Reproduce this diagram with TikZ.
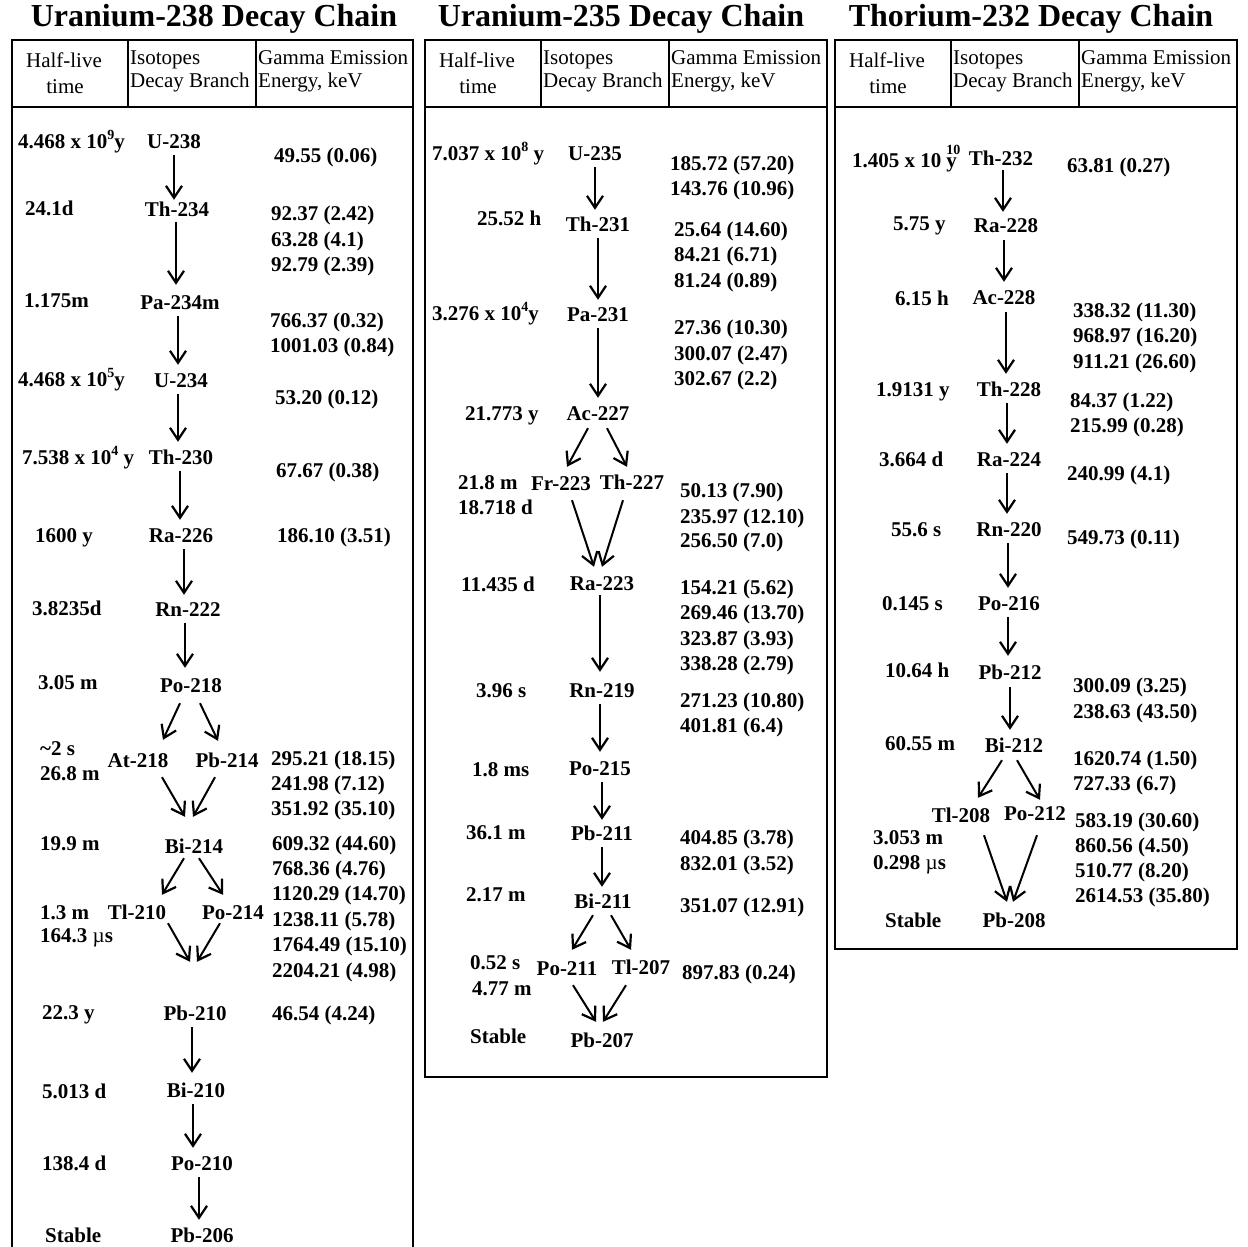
\documentclass[tikz,border=0pt]{standalone}
\usepackage{fontspec}
\setmainfont{Liberation Serif}
\usetikzlibrary{arrows.meta,calc}
\newcommand\sups[1]{\raisebox{0.42em}{\fontsize{14}{14}\selectfont #1}}
\newcommand\mymu{{\mdseries µ}}
\newcommand\vd[5]{\draw[arr] ($(#1.south)+(#3,#4)$) -- ($(#1.south |- #2.north)+(#3,-#5)$);}
\newcommand\dd[6]{\draw[arr] ($(#1.south)+(#3,#4)$) -- ($(#2.north)+(#5,#6)$);}
\newcommand\hdr[2]{%
  \draw[frame] (#1,40) -- (#1+116,40) -- (#1+116,107);
  \draw[frame] (#1+116,40) -- (#1+244,40) -- (#1+244,107);
  \draw[frame] (#1,107) -- (#1+401,107);
  \node[hd,anchor=base] (#2hl) at (#1+52,68) {Half-live};
  \node[hd,anchor=base] (#2tm) at (#1+53,93) {time};
  \node[hd,anchor=base west] (#2is) at (#1+118,65) {Isotopes};
  \node[hd,anchor=base west] (#2db) at (#1+118,88) {Decay Branch};
  \node[hd,anchor=base west] (#2ge) at (#1+246,65) {Gamma Emission};
  \node[hd,anchor=base west] (#2en) at (#1+246,88) {Energy, keV};
}
\tikzset{
  txt/.style={inner sep=0pt, text height=14pt, text depth=0pt, font=\fontsize{21}{21}\selectfont\bfseries},
  iso/.style={txt, anchor=center},
  hlf/.style={txt, anchor=west},
  gam/.style={txt, anchor=west},
  hd/.style={inner sep=0pt, font=\fontsize{21}{21}\selectfont},
  ttl/.style={inner sep=0pt, font=\fontsize{32}{32}\selectfont\bfseries},
  frame/.style={line width=1.5pt},
  arr/.style={line width=2pt, -{Straight Barb[length=12pt,width=16pt,line width=2.2pt]}}
}
\begin{document}
\begin{tikzpicture}[x=1pt,y=-1pt]
\useasboundingbox (0,0) rectangle (1248,1247);
% ---------------- frames ----------------
\draw[frame] (12,1252) -- (12,40) -- (413,40) -- (413,1252);
\draw[frame] (425,40) rectangle (827,1077);
\draw[frame] (835,40) rectangle (1237,949);
\hdr{12}{a}
\hdr{425}{b}
\hdr{835}{c}
% ---------------- titles ----------------
\node[ttl,anchor=base] (title1) at (214,27) {Uranium-238 Decay Chain};
\node[ttl,anchor=base] (title2) at (621,27) {Uranium-235 Decay Chain};
\node[ttl,anchor=base] (title3) at (1031,27) {Thorium-232 Decay Chain};

% ================= Table 1: U-238 =================
\node[hlf] (h1a) at (18,141) {4.468 x 10\sups{9}y};
\node[hlf] (h1b) at (25,208) {24.1d};
\node[hlf] (h1c) at (24,300) {1.175m};
\node[hlf] (h1d) at (18,379) {4.468 x 10\sups{5}y};
\node[hlf] (h1e) at (22,457) {7.538 x 10\sups{4} y};
\node[hlf] (h1f) at (35,535) {1600 y};
\node[hlf] (h1g) at (32,608) {3.8235d};
\node[hlf] (h1h) at (38,682) {3.05 m};
\node[hlf] (h1i) at (40,748) {\textasciitilde2 s};
\node[hlf] (h1j) at (40,773) {26.8 m};
\node[hlf] (h1k) at (40,843) {19.9 m};
\node[hlf] (h1l) at (40,912) {1.3 m};
\node[hlf] (h1m) at (40,935) {164.3 \mymu s};
\node[hlf] (h1n) at (42,1012) {22.3 y};
\node[hlf] (h1o) at (42,1091) {5.013 d};
\node[hlf] (h1p) at (42,1163) {138.4 d};
\node[hlf] (h1q) at (45,1235) {Stable};

\node[iso] (u238) at (174,141) {U-238};
\node[iso] (th234) at (177,209) {Th-234};
\node[iso] (pa234m) at (180,302) {Pa-234m};
\node[iso] (u234) at (181,380) {U-234};
\node[iso] (th230) at (181,457) {Th-230};
\node[iso] (ra226) at (181,535) {Ra-226};
\node[iso] (rn222) at (188,609) {Rn-222};
\node[iso] (po218) at (191,685) {Po-218};
\node[iso] (at218) at (138,760) {At-218};
\node[iso] (pb214) at (227,760) {Pb-214};
\node[iso] (bi214) at (194,846) {Bi-214};
\node[iso] (tl210) at (137,912) {Tl-210};
\node[iso] (po214) at (233,912) {Po-214};
\node[iso] (pb210) at (195,1013) {Pb-210};
\node[iso] (bi210) at (196,1090) {Bi-210};
\node[iso] (po210) at (202,1163) {Po-210};
\node[iso] (pb206) at (202,1235) {Pb-206};

\vd{u238}{th234}{0}{7}{2}
\vd{th234}{pa234m}{-1}{6}{10}
\vd{pa234m}{u234}{-2}{7}{8}
\vd{u234}{th230}{-3}{7}{8}
\vd{th230}{ra226}{-1}{7}{8}
\vd{ra226}{rn222}{3}{7}{7}
\vd{rn222}{po218}{-3}{7}{10}
\dd{po218}{at218}{-11}{11}{25}{-13}
\dd{po218}{pb214}{9}{11}{-9}{-12}
\dd{at218}{bi214}{24}{10}{-9}{-22}
\dd{pb214}{bi214}{-12}{10}{-1}{-22}
\dd{bi214}{tl210}{-10}{5}{25}{-10}
\dd{bi214}{po214}{5}{5}{-10}{-10}
\dd{tl210}{pb210}{31}{4}{-5}{-44}
\dd{po214}{pb210}{-13}{4}{2}{-44}
\vd{pb210}{bi210}{-3}{7}{10}
\vd{bi210}{po210}{-3}{7}{8}
\vd{po210}{pb206}{-3}{7}{8}

\node[gam] (g1a) at (274,155) {49.55 (0.06)};
\node[gam] (g1b) at (271,213) {92.37 (2.42)};
\node[gam] (g1c) at (271,239) {63.28 (4.1)};
\node[gam] (g1d) at (271,264) {92.79 (2.39)};
\node[gam] (g1e) at (270,320) {766.37 (0.32)};
\node[gam] (g1f) at (270,345) {1001.03 (0.84)};
\node[gam] (g1g) at (275,397) {53.20 (0.12)};
\node[gam] (g1h) at (276,470) {67.67 (0.38)};
\node[gam] (g1i) at (277,535) {186.10 (3.51)};
\node[gam] (g1j) at (271,758) {295.21 (18.15)};
\node[gam] (g1k) at (271,783) {241.98 (7.12)};
\node[gam] (g1l) at (271,808) {351.92 (35.10)};
\node[gam] (g1m) at (272,843) {609.32 (44.60)};
\node[gam] (g1n) at (272,868) {768.36 (4.76)};
\node[gam] (g1o) at (272,893) {1120.29 (14.70)};
\node[gam] (g1p) at (272,919) {1238.11 (5.78)};
\node[gam] (g1q) at (272,944) {1764.49 (15.10)};
\node[gam] (g1r) at (272,970) {2204.21 (4.98)};
\node[gam] (g1s) at (272,1013) {46.54 (4.24)};

% ================= Table 2: U-235 =================
\node[hlf] (h2a) at (432,153) {7.037 x 10\sups{8} y};
\node[hlf] (h2b) at (477,218) {25.52 h};
\node[hlf] (h2c) at (432,313) {3.276 x 10\sups{4}y};
\node[hlf] (h2d) at (465,413) {21.773 y};
\node[hlf] (h2e) at (458,482) {21.8 m};
\node[hlf] (h2f) at (458,507) {18.718 d};
\node[hlf] (h2g) at (461,584) {11.435 d};
\node[hlf] (h2h) at (476,690) {3.96 s};
\node[hlf] (h2i) at (472,769) {1.8 ms};
\node[hlf] (h2j) at (466,832) {36.1 m};
\node[hlf] (h2k) at (466,894) {2.17 m};
\node[hlf] (h2l) at (470,962) {0.52 s};
\node[hlf] (h2m) at (472,988) {4.77 m};
\node[hlf] (h2n) at (470,1036) {Stable};

\node[iso] (u235) at (595,153) {U-235};
\node[iso] (th231) at (598,224) {Th-231};
\node[iso] (pa231) at (598,314) {Pa-231};
\node[iso] (ac227) at (598,413) {Ac-227};
\node[iso] (fr223) at (561,483) {Fr-223};
\node[iso] (th227) at (632,482) {Th-227};
\node[iso] (ra223) at (602,583) {Ra-223};
\node[iso] (rn219) at (602,690) {Rn-219};
\node[iso] (po215) at (600,768) {Po-215};
\node[iso] (pb211) at (602,833) {Pb-211};
\node[iso] (bi211) at (603,901) {Bi-211};
\node[iso] (po211) at (567,968) {Po-211};
\node[iso] (tl207) at (641,967) {Tl-207};
\node[iso] (pb207) at (602,1040) {Pb-207};

\vd{u235}{th231}{0}{7}{7}
\vd{th231}{pa231}{0}{7}{7}
\vd{pa231}{ac227}{0}{7}{8}
\dd{ac227}{fr223}{-10}{8}{6}{-9}
\dd{ac227}{th227}{9}{8}{-5}{-8}
\dd{fr223}{ra223}{11}{10}{-8}{-9}
\dd{th227}{ra223}{-9}{11}{0}{-9}
\vd{ra223}{rn219}{-2}{5}{11}
\vd{rn219}{po215}{-2}{7}{9}
\vd{po215}{pb211}{2}{7}{6}
\vd{pb211}{bi211}{0}{7}{7}
\dd{bi211}{po211}{-10}{7}{5}{-11}
\dd{bi211}{tl207}{8}{7}{-10}{-10}
\dd{po211}{pb207}{6}{10}{-6}{-11}
\dd{tl207}{pb207}{-15}{11}{1}{-11}

\node[gam] (g2a) at (670,163) {185.72 (57.20)};
\node[gam] (g2b) at (670,188) {143.76 (10.96)};
\node[gam] (g2c) at (674,229) {25.64 (14.60)};
\node[gam] (g2d) at (674,254) {84.21 (6.71)};
\node[gam] (g2e) at (674,280) {81.24 (0.89)};
\node[gam] (g2f) at (674,327) {27.36 (10.30)};
\node[gam] (g2g) at (674,353) {300.07 (2.47)};
\node[gam] (g2h) at (674,378) {302.67 (2.2)};
\node[gam] (g2i) at (680,490) {50.13 (7.90)};
\node[gam] (g2j) at (680,516) {235.97 (12.10)};
\node[gam] (g2k) at (680,540) {256.50 (7.0)};
\node[gam] (g2l) at (680,587) {154.21 (5.62)};
\node[gam] (g2m) at (680,612) {269.46 (13.70)};
\node[gam] (g2n) at (680,638) {323.87 (3.93)};
\node[gam] (g2o) at (680,663) {338.28 (2.79)};
\node[gam] (g2p) at (680,700) {271.23 (10.80)};
\node[gam] (g2q) at (680,725) {401.81 (6.4)};
\node[gam] (g2r) at (680,837) {404.85 (3.78)};
\node[gam] (g2s) at (680,863) {832.01 (3.52)};
\node[gam] (g2t) at (680,905) {351.07 (12.91)};
\node[gam] (g2u) at (682,972) {897.83 (0.24)};

% ================= Table 3: Th-232 =================
\node[hlf] (h3a) at (852,160) {1.405 x 10\hspace{5pt}\rlap{\raisebox{0.6em}{\fontsize{14}{14}\selectfont 10}}y};
\node[hlf] (h3b) at (893,223) {5.75 y};
\node[hlf] (h3c) at (895,298) {6.15 h};
\node[hlf] (h3d) at (876,389) {1.9131 y};
\node[hlf] (h3e) at (879,459) {3.664 d};
\node[hlf] (h3f) at (891,529) {55.6 s};
\node[hlf] (h3g) at (882,603) {0.145 s};
\node[hlf] (h3h) at (885,670) {10.64 h};
\node[hlf] (h3i) at (885,743) {60.55 m};
\node[hlf] (h3j) at (873,837) {3.053 m};
\node[hlf] (h3k) at (873,862) {0.298 \mymu s};
\node[hlf] (h3l) at (885,920) {Stable};

\node[iso] (th232) at (1001,158) {Th-232};
\node[iso] (ra228) at (1006,225) {Ra-228};
\node[iso] (ac228) at (1004,297) {Ac-228};
\node[iso] (th228) at (1009,389) {Th-228};
\node[iso] (ra224) at (1009,459) {Ra-224};
\node[iso] (rn220) at (1009,529) {Rn-220};
\node[iso] (po216) at (1009,603) {Po-216};
\node[iso] (pb212) at (1010,672) {Pb-212};
\node[iso] (bi212) at (1014,745) {Bi-212};
\node[iso] (tl208) at (961,815) {Tl-208};
\node[iso] (po212) at (1035,813) {Po-212};
\node[iso] (pb208) at (1014,920) {Pb-208};

\vd{th232}{ra228}{2}{5}{6}
\vd{ra228}{ac228}{-2}{8}{8}
\vd{ac228}{th228}{2}{8}{8}
\vd{th228}{ra224}{-2}{7}{8}
\vd{ra224}{rn220}{-2}{7}{8}
\vd{rn220}{po216}{-1}{7}{8}
\vd{po216}{pb212}{-1}{7}{9}
\vd{pb212}{bi212}{0}{8}{8}
\dd{bi212}{tl208}{-12}{8}{17}{-10}
\dd{bi212}{po212}{3}{8}{5}{-6}
\dd{tl208}{pb208}{23}{13}{-7}{-11}
\dd{po212}{pb208}{2}{15}{-1}{-11}

\node[gam] (g3a) at (1067,165) {63.81 (0.27)};
\node[gam] (g3b) at (1073,310) {338.32 (11.30)};
\node[gam] (g3c) at (1073,335) {968.97 (16.20)};
\node[gam] (g3d) at (1073,361) {911.21 (26.60)};
\node[gam] (g3e) at (1070,400) {84.37 (1.22)};
\node[gam] (g3f) at (1070,425) {215.99 (0.28)};
\node[gam] (g3g) at (1067,473) {240.99 (4.1)};
\node[gam] (g3h) at (1067,537) {549.73 (0.11)};
\node[gam] (g3i) at (1073,685) {300.09 (3.25)};
\node[gam] (g3j) at (1073,711) {238.63 (43.50)};
\node[gam] (g3k) at (1073,758) {1620.74 (1.50)};
\node[gam] (g3l) at (1073,783) {727.33 (6.7)};
\node[gam] (g3m) at (1075,820) {583.19 (30.60)};
\node[gam] (g3n) at (1075,845) {860.56 (4.50)};
\node[gam] (g3o) at (1075,870) {510.77 (8.20)};
\node[gam] (g3p) at (1075,895) {2614.53 (35.80)};
\end{tikzpicture}
\end{document}
